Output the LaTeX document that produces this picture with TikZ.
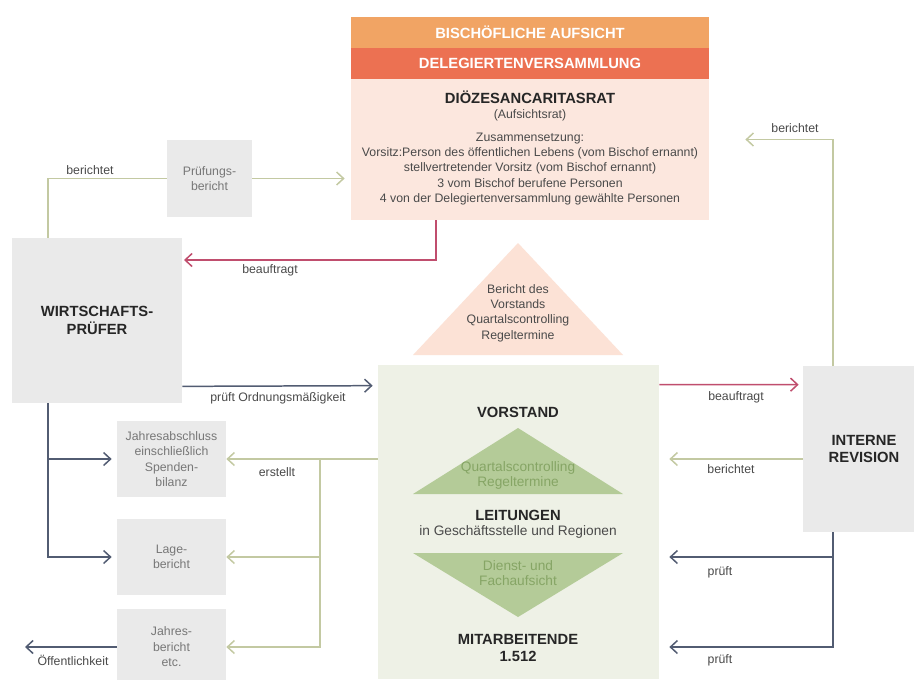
\documentclass[tikz,border=0pt]{standalone}
\usepackage{fontspec}
\setmainfont{Liberation Sans}
\usetikzlibrary{arrows.meta,positioning,calc}
\definecolor{headorange}{HTML}{F1A464}
\definecolor{headred}{HTML}{EC7152}
\definecolor{councilpink}{HTML}{FCE7DE}
\definecolor{trianglepink}{HTML}{FCE2D6}
\definecolor{boxgray}{HTML}{EAEAEA}
\definecolor{boardgreen}{HTML}{EEF1E6}
\definecolor{trianglegreen}{HTML}{B4CB98}
\definecolor{triangletext}{HTML}{86A565}
\definecolor{lineolive}{HTML}{C3C9A2}
\definecolor{lineblue}{HTML}{525C72}
\definecolor{linered}{HTML}{C04E6E}
\definecolor{textgray}{HTML}{4A4A4A}
\tikzset{
  header/.style={fill=#1, minimum width=71.6mm, minimum height=6.2mm, inner sep=0pt, text=white, font=\bfseries\fontsize{8.4}{10}\selectfont},
  heading/.style={font=\bfseries\fontsize{8.4}{10.2}\selectfont, text=black!85, align=center, inner sep=0pt},
  infotext/.style={font=\fontsize{7}{8.7}\selectfont, text=textgray, align=center, inner sep=0pt},
  greytext/.style={font=\fontsize{7}{8.8}\selectfont, text=textgray!75, align=center, inner sep=0pt},
  fieldtext/.style={font=\fontsize{7.8}{8.5}\selectfont, text=triangletext, align=center, inner sep=0pt},
  docbox/.style={fill=boxgray, minimum width=21.8mm, minimum height=15.2mm, inner sep=0pt, greytext},
  bigbox/.style={fill=boxgray, inner sep=0pt, heading},
  lbl/.style={font=\fontsize{7}{8.4}\selectfont, text=textgray, inner sep=0pt},
  oliveline/.style={line width=0.85pt, lineolive},
  olivearrow/.style={-{Straight Barb[length=1.4mm,width=2.6mm]}, line width=0.85pt, lineolive},
  bluearrow/.style={-{Straight Barb[length=1.4mm,width=2.6mm]}, line width=0.85pt, lineblue},
  redarrow/.style={-{Straight Barb[length=1.4mm,width=2.6mm]}, line width=0.85pt, linered}
}
\begin{document}
\begin{tikzpicture}[x=0.2mm, y=-0.2mm]
  \clip (0,0) rectangle (914,679);
  \fill[white] (0,0) rectangle (914,679);

  % Aufsicht oben
  \node[header=headorange] (aufsicht) at (530,32.5) {BISCHÖFLICHE AUFSICHT};
  \node[header=headred] (delegiert) at (530,63.5) {DELEGIERTENVERSAMMLUNG};
  \node[fill=councilpink, minimum width=71.6mm, minimum height=28.2mm, inner sep=0pt] (rat) at (530,149.5) {};
  \node[heading] (rattitel) at (530,97) {DIÖZESANCARITASRAT};
  \node[infotext] (ratsub) at (530,115) {(Aufsichtsrat)};
  \node[infotext] (ratliste) at (530,169) {Zusammensetzung:\\
    Vorsitz:Person des öffentlichen Lebens (vom Bischof ernannt)\\
    stellvertretender Vorsitz (vom Bischof ernannt)\\
    3 vom Bischof berufene Personen\\
    4 von der Delegiertenversammlung gewählte Personen};

  % Bericht an den Rat
  \fill[trianglepink] (413,355) -- (518,243) -- (623,355) -- cycle;
  \node[infotext] (bericht) at (518,313) {Bericht des\\Vorstands\\Quartalscontrolling\\Regeltermine};

  % Vorstand
  \node[fill=boardgreen, minimum width=56.2mm, minimum height=62.8mm, inner sep=0pt] (vorstand) at (518.5,522) {};
  \fill[trianglegreen] (413,494) -- (518,428) -- (623,494) -- cycle;
  \fill[trianglegreen] (413,553) -- (518,617) -- (623,553) -- cycle;
  \node[heading] (vtitel) at (518,412) {VORSTAND};
  \node[fieldtext] (controlling) at (518,475.5) {Quartalscontrolling\\Regeltermine};
  \node[heading] (ltitel) at (518,515) {LEITUNGEN};
  \node[infotext, font=\fontsize{7.8}{9}\selectfont] (lsub) at (518,532) {in Geschäftsstelle und Regionen};
  \node[fieldtext] (aufsichtfeld) at (518,573.5) {Dienst- und\\Fachaufsicht};
  \node[heading] (mtitel) at (518,648) {MITARBEITENDE\\1.512};

  % Prüfer, Revision, Berichte
  \node[bigbox, minimum width=34mm, minimum height=33mm] (wp) at (97,320.5) {WIRTSCHAFTS-\\PRÜFER};
  \node[bigbox, minimum width=24.4mm, minimum height=33.2mm] (ir) at (864,449) {INTERNE\\REVISION};
  \node[docbox, minimum width=17mm, minimum height=15.4mm] (prbericht) at (209.5,178.5) {Prüfungs-\\bericht};
  \node[docbox] (ja) at (171.5,459) {Jahresabschluss\\einschließlich\\Spenden-\\bilanz};
  \node[docbox] (lage) at (171.5,557) {Lage-\\bericht};
  \node[docbox] (jb) at (171.5,647) {Jahres-\\bericht\\etc.};

  \coordinate (wpauftrag) at (184,260);
  \coordinate (oeff) at (25,647);
  \coordinate (ast) at (320,459);
  \coordinate (ratziel) at ($(rat.east)+(36,-10)$);
  \coordinate (irb) at ($(ir.west)+(0,10)$);
  \coordinate (irp) at ($(ir.south)+(-31,0)$);

  % Verbindungen
  \draw[oliveline] ($(wp.north)+(-49,0)$) |- (prbericht.west);
  \draw[olivearrow, shorten >=1.2mm] (prbericht.east) -- (rat.west |- prbericht.east);
  \draw[redarrow] ($(rat.south)+(-94,0)$) |- (wpauftrag);
  \draw[bluearrow, shorten >=1mm] ($(wp.south east)+(0,-17)$) -- ($(vorstand.north west)+(0,21)$);
  \draw[bluearrow, shorten >=1mm] ($(wp.south)+(-49,0)$) |- (ja.west);
  \draw[bluearrow, shorten >=1mm] ($(wp.south)+(-49,0)$) |- (lage.west);
  \draw[bluearrow] (jb.west) -- (oeff);
  \draw[olivearrow] (vorstand.west |- ja.east) -- (ja.east);
  \draw[olivearrow] (ast) |- (lage.east);
  \draw[olivearrow] (ast) |- (jb.east);
  \draw[redarrow, shorten >=0.8mm] ($(vorstand.north east)+(0,20)$) -- ($(ir.north west)+(0,19)$);
  \draw[olivearrow, shorten >=2mm] (irb) -- (vorstand.east |- irb);
  \draw[bluearrow, shorten >=2mm] (irp) |- (vorstand.east |- lage.east);
  \draw[bluearrow, shorten >=2mm] (irp) |- (vorstand.east |- jb.east);
  \draw[olivearrow] ($(ir.north)+(-31,0)$) |- (ratziel);

  % Beschriftungen
  \node[lbl] (l1) at (90,170) {berichtet};
  \node[lbl] (l2) at (270,270) {beauftragt};
  \node[lbl] (l3) at (278,398) {prüft Ordnungsmäßigkeit};
  \node[lbl] (l4) at (277,472) {erstellt};
  \node[lbl] (l5) at (73,660) {Öffentlichkeit};
  \node[lbl] (l6) at (736,397) {beauftragt};
  \node[lbl] (l7) at (731,469) {berichtet};
  \node[lbl] (l8) at (720,572) {prüft};
  \node[lbl] (l9) at (720,660) {prüft};
  \node[lbl] (l10) at (795,128) {berichtet};
\end{tikzpicture}
\end{document}
